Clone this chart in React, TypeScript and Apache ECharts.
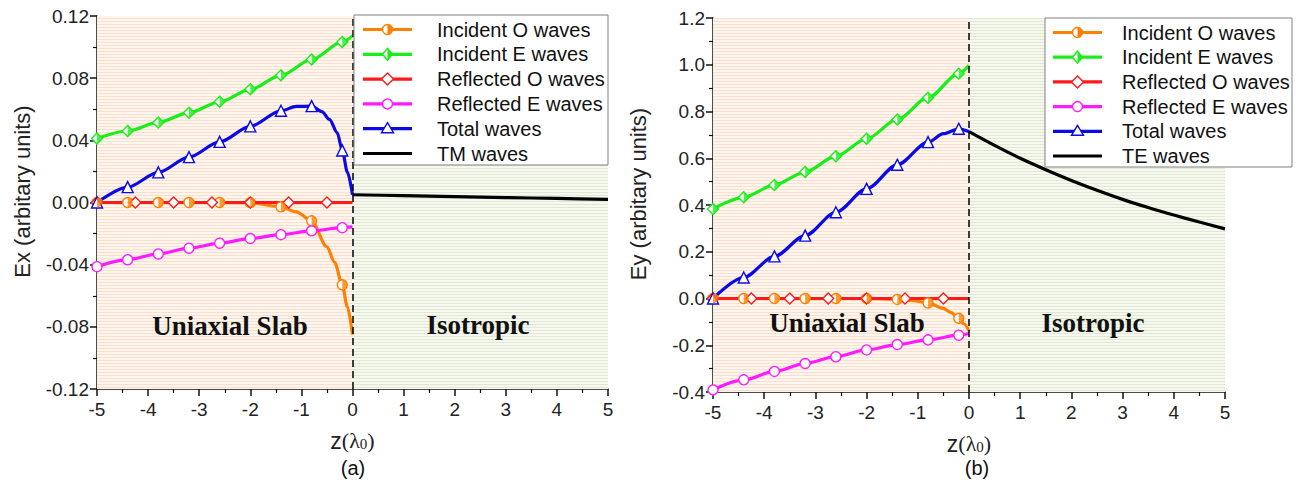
import React, { useEffect, useRef } from "react";
import * as echarts from "echarts";

const SANS = '"Liberation Sans", Arial, sans-serif';
const SERIF = '"Liberation Serif", "Times New Roman", serif';

const ORANGE = "#ff8000";
const GREEN = "#1aee1a";
const RED = "#ff1a1a";
const MAGENTA = "#ff1aff";
const BLUE = "#0a0ae6";
const BLACK = "#000000";

// marker positions along z
const marksStep06 = [-5, -4.4, -3.8, -3.2, -2.6, -2.0, -1.4, -0.8, -0.2];
const marksStep075 = [-5, -4.25, -3.5, -2.75, -2.0, -1.25, -0.5];

// ---- panel (a): Ex ----
const zIncOA = [-5, -4.4, -3.8, -3.2, -2.6, -2.0, -1.4, -1.1, -0.8, -0.5, -0.35, -0.2, -0.1, 0];
const incOA = [0, 0, 0, 0, 0, -0.0001, -0.0028, -0.006, -0.0118, -0.0285, -0.0385, -0.053, -0.0672, -0.085];

const zIncEA = [-5, -4.4, -3.8, -3.2, -2.6, -2.0, -1.4, -0.8, -0.2, 0];
const incEA = [0.0412, 0.046, 0.0515, 0.0578, 0.0648, 0.0728, 0.0818, 0.092, 0.1033, 0.1072];

const zRefOA = [-5, -4.25, -3.5, -2.75, -2.0, -1.25, -0.5, 0];
const refOA = [0, 0, 0, 0, 0, 0, 0, 0];

const zRefEA = [-5, -4.4, -3.8, -3.2, -2.6, -2.0, -1.4, -0.8, -0.2, 0];
const refEA = [-0.0413, -0.0368, -0.0331, -0.0294, -0.0262, -0.0232, -0.0207, -0.0182, -0.0162, -0.0157];

const zTotA = [-5, -4.4, -3.8, -3.2, -2.6, -2.0, -1.4, -1.1, -0.8, -0.6, -0.45, -0.3, -0.2, -0.1, 0];
const totA = [0, 0.0099, 0.0194, 0.0292, 0.039, 0.049, 0.059, 0.0618, 0.062, 0.0585, 0.0535, 0.045, 0.0335, 0.0195, 0.005];

const zTM = [0, 1, 2, 3, 4, 5];
const tmWaves = [0.005, 0.0044, 0.0038, 0.0032, 0.0026, 0.002];

// ---- panel (b): Ey ----
const zIncOB = [-5, -4.4, -3.8, -3.2, -2.6, -2.0, -1.4, -1.1, -0.8, -0.5, -0.35, -0.2, -0.1, 0];
const incOB = [0, 0, 0, 0, 0, 0, -0.004, -0.009, -0.019, -0.042, -0.06, -0.085, -0.108, -0.138];

const zIncEB = [-5, -4.4, -3.8, -3.2, -2.6, -2.0, -1.4, -0.8, -0.2, 0];
const incEB = [0.383, 0.433, 0.486, 0.541, 0.609, 0.683, 0.766, 0.859, 0.962, 0.998];

const zRefOB = [-5, -4.25, -3.5, -2.75, -2.0, -1.25, -0.5, 0];
const refOB = [0, 0, 0, 0, 0, 0, 0, 0];

const zRefEB = [-5, -4.4, -3.8, -3.2, -2.6, -2.0, -1.4, -0.8, -0.2, 0];
const refEB = [-0.391, -0.348, -0.312, -0.278, -0.249, -0.22, -0.197, -0.177, -0.157, -0.15];

const zTotB = [-5, -4.4, -3.8, -3.2, -2.6, -2.0, -1.4, -0.8, -0.5, -0.2, 0];
const totB = [0, 0.09, 0.18, 0.269, 0.369, 0.469, 0.572, 0.669, 0.705, 0.726, 0.714];

const zTE = [0, 0.5, 1, 1.5, 2, 2.5, 3, 3.5, 4, 4.5, 5];
const teWaves = [0.714, 0.655, 0.6, 0.551, 0.505, 0.463, 0.424, 0.389, 0.357, 0.327, 0.298];

const legendLabelsA = ["Incident O waves", "Incident E waves", "Reflected O waves", "Reflected E waves", "Total waves", "TM waves"];
const legendLabelsB = ["Incident O waves", "Incident E waves", "Reflected O waves", "Reflected E waves", "Total waves", "TE waves"];

const HALF_DISC = "path://M0,-10 A10,10 0 0,1 0,10 Z";
const HALF_DIAMOND = "path://M0,-10 L10,0 L0,10 Z";

const TOP_Z = 100;

const isMark = (x: number, marks: number[]) => marks.some((m) => Math.abs(m - x) < 1e-6);

function stripes(line: string, bg: string) {
  const c = document.createElement("canvas");
  c.width = 4;
  c.height = 3;
  const g = c.getContext("2d")!;
  g.fillStyle = bg;
  g.fillRect(0, 0, 4, 3);
  g.fillStyle = line;
  g.fillRect(0, 0, 4, 1);
  return { image: c, repeat: "repeat", imageWidth: 4, imageHeight: 3 } as any;
}

function curve(name: string, ax: number, z: number[], v: number[], color: string, symbol: string, marks: number[], size: number) {
  return {
    type: "line",
    name,
    xAxisIndex: ax,
    yAxisIndex: ax,
    data: z.map((x, i) => ({ value: [x, v[i]], symbol: isMark(x, marks) ? symbol : "none" })),
    symbol,
    symbolSize: size,
    smooth: 0.3,
    smoothMonotone: "x",
    lineStyle: { color, width: 3.2 },
    itemStyle: { color: "#ffffff", borderColor: color, borderWidth: 1.4 },
    z: 3,
    silent: true,
  };
}

function halfFill(ax: number, z: number[], v: number[], color: string, path: string, w: number, h: number) {
  const pts: number[][] = [];
  z.forEach((x, i) => {
    if (isMark(x, marksStep06)) pts.push([x, v[i]]);
  });
  return {
    type: "scatter",
    xAxisIndex: ax,
    yAxisIndex: ax,
    data: pts,
    symbol: path,
    symbolSize: [w, h],
    symbolOffset: [w / 2, 0],
    itemStyle: { color },
    z: 4,
    silent: true,
  };
}

function plainLine(name: string, ax: number, z: number[], v: number[]) {
  return {
    type: "line",
    name,
    xAxisIndex: ax,
    yAxisIndex: ax,
    data: z.map((x, i) => [x, v[i]]),
    showSymbol: false,
    symbol: "none",
    smooth: 0.3,
    lineStyle: { color: BLACK, width: 3.2 },
    z: 3,
    silent: true,
  };
}

function background(ax: number, left: any, right: any) {
  return {
    type: "line",
    xAxisIndex: ax,
    yAxisIndex: ax,
    data: [],
    silent: true,
    z: 1,
    markArea: {
      silent: true,
      z: 1,
      data: [
        [{ xAxis: -5, itemStyle: { color: left } }, { xAxis: 0 }],
        [{ xAxis: 0, itemStyle: { color: right } }, { xAxis: 5 }],
      ],
    },
    markLine: {
      silent: true,
      symbol: "none",
      label: { show: false },
      lineStyle: { color: BLACK, type: [7, 4], width: 1.5 },
      data: [{ xAxis: 0 }],
    },
  };
}

function markerShapes(kind: string, color: string, cx: number, cy: number) {
  const open = { fill: "#ffffff", stroke: color, lineWidth: 1.4 };
  const z = TOP_Z + 2;
  if (kind === "halfCircle")
    return [
      { type: "circle", z, shape: { cx, cy, r: 5 }, style: open },
      { type: "sector", z: z + 1, shape: { cx, cy, r: 5, startAngle: -Math.PI / 2, endAngle: Math.PI / 2, clockwise: true }, style: { fill: color } },
    ];
  if (kind === "halfDiamond")
    return [
      { type: "polygon", z, shape: { points: [[cx, cy - 6], [cx + 5, cy], [cx, cy + 6], [cx - 5, cy]] }, style: open },
      { type: "polygon", z: z + 1, shape: { points: [[cx, cy - 6], [cx + 5, cy], [cx, cy + 6]] }, style: { fill: color } },
    ];
  if (kind === "diamond")
    return [{ type: "polygon", z, shape: { points: [[cx, cy - 6], [cx + 6, cy], [cx, cy + 6], [cx - 6, cy]] }, style: open }];
  if (kind === "circle") return [{ type: "circle", z, shape: { cx, cy, r: 5 }, style: open }];
  if (kind === "triangle")
    return [{ type: "polygon", z, shape: { points: [[cx, cy - 6], [cx + 6, cy + 4], [cx - 6, cy + 4]] }, style: open }];
  return [];
}

const legendStyle = [
  { color: ORANGE, kind: "halfCircle" },
  { color: GREEN, kind: "halfDiamond" },
  { color: RED, kind: "diamond" },
  { color: MAGENTA, kind: "circle" },
  { color: BLUE, kind: "triangle" },
  { color: BLACK, kind: "none" },
];

function legendBox(x: number, y: number, w: number, h: number, labels: string[], firstRow: number, gap: number, lx1: number, lx2: number, tx: number) {
  const els: any[] = [
    { type: "rect", z: TOP_Z, shape: { x, y, width: w, height: h }, style: { fill: "#ffffff", stroke: "#808080", lineWidth: 1 } },
  ];
  labels.forEach((label, i) => {
    const cy = firstRow + i * gap;
    const { color, kind } = legendStyle[i];
    els.push({ type: "line", z: TOP_Z + 1, shape: { x1: lx1, y1: cy, x2: lx2, y2: cy }, style: { stroke: color, lineWidth: 3.2 } });
    els.push(...markerShapes(kind, color, (lx1 + lx2) / 2, cy));
    els.push({
      type: "text",
      z: TOP_Z + 1,
      style: { x: tx, y: cy, text: label, fontSize: 20, fontFamily: SANS, fill: "#111111", verticalAlign: "middle", align: "left" },
    });
  });
  return els;
}

function label(x: number, y: number, text: string, font: string, size: number, weight = "normal") {
  return {
    type: "text",
    z: 50,
    style: { x, y, text, fontSize: size, fontFamily: font, fontWeight: weight, fill: "#111111", align: "center", verticalAlign: "middle" },
  };
}

function xAxisCfg(grid: number) {
  return {
    type: "value",
    gridIndex: grid,
    min: -5,
    max: 5,
    interval: 1,
    name: "{z|z}{p|(λ}{s|0}{p|)}",
    nameLocation: "middle",
    nameGap: 40,
    nameTextStyle: {
      rich: {
        z: { fontFamily: SANS, fontSize: 23, color: "#222" },
        p: { fontFamily: SERIF, fontSize: 22, color: "#222" },
        s: { fontFamily: SERIF, fontSize: 15, color: "#222", padding: [6, 0, 0, 0] },
      },
    },
    axisLine: { onZero: false, lineStyle: { color: "#111", width: 1.5 } },
    axisTick: { show: true, inside: false, length: 7, lineStyle: { color: "#111", width: 1.5 } },
    minorTick: { show: true, splitNumber: 2, length: 4, lineStyle: { color: "#111", width: 1.2 } },
    splitLine: { show: false },
    minorSplitLine: { show: false },
    axisLabel: { fontFamily: SANS, fontSize: 19, color: "#222", margin: 11 },
  };
}

function yAxisCfg(grid: number, min: number, max: number, interval: number, digits: number, name: string) {
  return {
    type: "value",
    gridIndex: grid,
    min,
    max,
    interval,
    name,
    nameLocation: "middle",
    nameGap: 64,
    nameTextStyle: { fontFamily: SANS, fontSize: 22, color: "#222", padding: [0, 0, 0, 22] },
    axisLine: { show: true, onZero: false, lineStyle: { color: "#111", width: 1.5 } },
    axisTick: { show: true, inside: false, length: 7, lineStyle: { color: "#111", width: 1.5 } },
    minorTick: { show: true, splitNumber: 2, length: 4, lineStyle: { color: "#111", width: 1.2 } },
    splitLine: { show: false },
    minorSplitLine: { show: false },
    axisLabel: {
      fontFamily: SANS,
      fontSize: 19,
      color: "#222",
      margin: 8,
      formatter: (v: number) => (Math.abs(v) < 1e-9 ? 0 : v).toFixed(digits),
    },
  };
}

export default function App() {
  const ref = useRef<HTMLDivElement>(null);

  useEffect(() => {
    if (!ref.current) return;
    const chart = echarts.init(ref.current, undefined, { renderer: "svg" });
    const slabFill = stripes("#f9e0cd", "#fdf5ee");
    const isoFill = stripes("#e1e8d2", "#f7f8f0");

    chart.setOption({
      animation: false,
      backgroundColor: "#ffffff",
      grid: [
        { left: 97, top: 16, width: 511, height: 373 },
        { left: 713, top: 18, width: 512, height: 374 },
      ],
      xAxis: [xAxisCfg(0), xAxisCfg(1)],
      yAxis: [
        yAxisCfg(0, -0.12, 0.12, 0.04, 2, "Ex (arbitary units)"),
        yAxisCfg(1, -0.4, 1.2, 0.2, 1, "Ey (arbitary units)"),
      ],
      series: [
        background(0, slabFill, isoFill),
        background(1, slabFill, isoFill),
        // panel (a)
        curve("Incident O waves", 0, zIncOA, incOA, ORANGE, "circle", marksStep06, 10),
        halfFill(0, zIncOA, incOA, ORANGE, HALF_DISC, 5, 10),
        curve("Incident E waves", 0, zIncEA, incEA, GREEN, "diamond", marksStep06, 11),
        halfFill(0, zIncEA, incEA, GREEN, HALF_DIAMOND, 5.5, 11),
        curve("Reflected O waves", 0, zRefOA, refOA, RED, "diamond", marksStep075, 11),
        curve("Reflected E waves", 0, zRefEA, refEA, MAGENTA, "circle", marksStep06, 10),
        curve("Total waves", 0, zTotA, totA, BLUE, "triangle", marksStep06, 11),
        plainLine("TM waves", 0, zTM, tmWaves),
        // panel (b)
        curve("Incident O waves", 1, zIncOB, incOB, ORANGE, "circle", marksStep06, 10),
        halfFill(1, zIncOB, incOB, ORANGE, HALF_DISC, 5, 10),
        curve("Incident E waves", 1, zIncEB, incEB, GREEN, "diamond", marksStep06, 11),
        halfFill(1, zIncEB, incEB, GREEN, HALF_DIAMOND, 5.5, 11),
        curve("Reflected O waves", 1, zRefOB, refOB, RED, "diamond", marksStep075, 11),
        curve("Reflected E waves", 1, zRefEB, refEB, MAGENTA, "circle", marksStep06, 10),
        curve("Total waves", 1, zTotB, totB, BLUE, "triangle", marksStep06, 11),
        plainLine("TE waves", 1, zTE, teWaves),
      ],
      graphic: [
        ...legendBox(354, 15, 254, 150, legendLabelsA, 29.5, 24.8, 363, 412, 437),
        ...legendBox(1045, 18, 247, 149, legendLabelsB, 32.5, 24.7, 1053, 1102, 1122),
        label(230, 326, "Uniaxial Slab", SERIF, 27, "bold"),
        label(478, 325, "Isotropic", SERIF, 27, "bold"),
        label(847, 323, "Uniaxial Slab", SERIF, 27, "bold"),
        label(1093, 323, "Isotropic", SERIF, 27, "bold"),
        label(353, 468, "(a)", SANS, 20),
        label(977, 468, "(b)", SANS, 20),
      ],
    });

    return () => chart.dispose();
  }, []);

  return (
    <div
      ref={ref}
      style={{ position: "absolute", left: 0, top: 0, width: 1302, height: 491, background: "#fff" }}
    />
  );
}
